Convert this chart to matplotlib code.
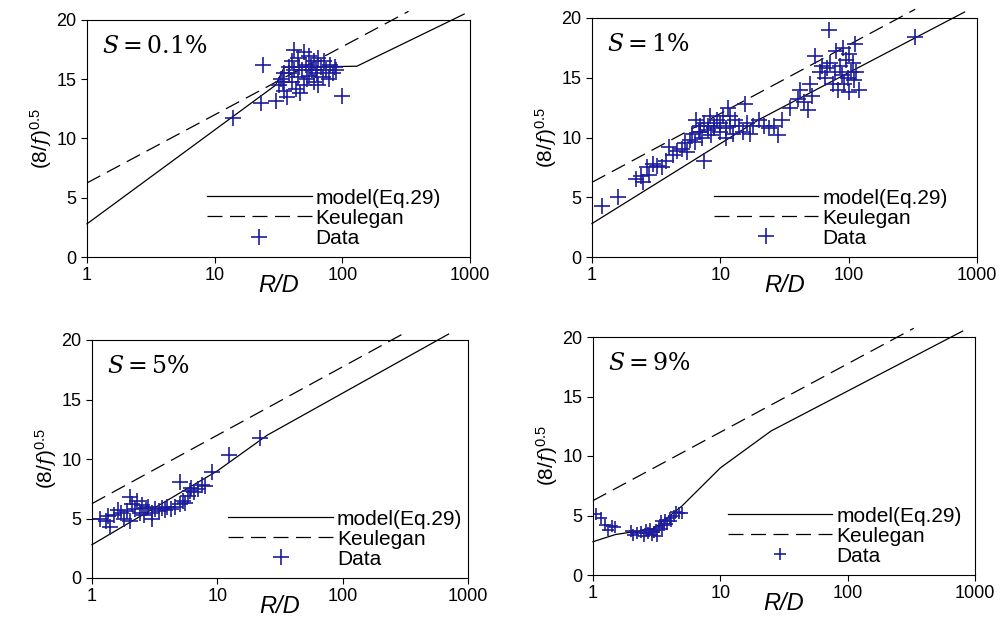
import numpy as np
import matplotlib.pyplot as plt

plt.rcParams['font.family'] = ['Liberation Sans', 'DejaVu Sans']
plt.rcParams['mathtext.fontset'] = 'dejavuserif'

slopes = ['0.1%', '1%', '5%', '9%']

# Keulegan: 6.25 + 5.75 log10(R/D), drawn up to just past the top of the axes
keu_x = [1, 330]

model_x = [
    [1, 30, 35, 130, 900],
    [1, 20, 800],
    [1, 10, 25, 700],
    [1, 1.5, 3, 5, 10, 25, 800],
]
model_y = [
    [2.8, 14.5, 16.0, 16.1, 20.5],
    [2.8, 11.5, 20.5],
    [2.8, 9.0, 12.0, 20.5],
    [2.8, 3.4, 3.9, 5.8, 9.0, 12.1, 20.5],
]

data_x = [
    [14, 23, 24, 30, 32, 33, 35, 35, 37, 38, 40, 40, 42, 43, 45, 45, 47, 48, 50, 50,
     52, 55, 55, 58, 60, 60, 63, 65, 65, 68, 70, 72, 75, 78, 80, 85, 88, 90, 100, 38,
     42, 46, 53, 57, 62, 34],
    [1.2, 1.6, 2.2, 2.4, 2.5, 2.7, 2.8, 3, 3.2, 3.5, 3.8, 4, 4.3, 4.6, 5, 5.3, 5.5, 5.8,
     6, 6.3, 6.5, 6.8, 7, 7.2, 7.5, 7.5, 8, 8.3, 8.5, 9, 9.5, 10, 10.5, 11, 11.5, 12,
     12.5, 13, 14, 15, 15.5, 16, 17, 18, 20, 22, 24, 26, 28, 30, 35, 40, 42, 45, 48,
     50, 52, 55, 60, 62, 65, 68, 70, 72, 75, 78, 80, 82, 85, 88, 90, 92, 95, 98, 100,
     100, 105, 108, 110, 112, 115, 120, 330, 9, 8, 10, 11, 7, 12],
    [1, 1.15, 1.3, 1.35, 1.4, 1.5, 1.6, 1.7, 1.8, 1.9, 2, 2, 2.1, 2.2, 2.3, 2.4, 2.5,
     2.6, 2.7, 2.8, 3, 3, 3.2, 3.4, 3.6, 3.8, 4, 4.3, 4.6, 5, 5, 5.3, 5.5, 5.8, 6, 6.2,
     6.5, 7, 7.5, 8, 9, 12.5, 22],
    [1.05, 1.15, 1.25, 1.3, 1.4, 1.5, 2, 2.05, 2.2, 2.4, 2.5, 2.6, 2.7, 2.8, 2.9, 3,
     3.1, 3.2, 3.3, 3.4, 3.5, 3.6, 3.7, 3.8, 4, 4.1, 4.3, 4.5, 4.7, 5],
]
data_y = [
    [11.7, 13, 16.2, 13.2, 14.5, 15, 15.5, 14, 13.5, 16, 14.8, 16.5, 17.5, 14.2, 15.2,
     16.8, 13.8, 15.8, 17.3, 14.5, 16.2, 15.3, 17, 15.8, 14.8, 16.5, 15.5, 16.8, 14.5,
     16, 15.2, 16.5, 15.8, 15, 16.2, 15.5, 16, 15.8, 13.6, 15.5, 15.8, 16, 15, 16, 15.8,
     14.8],
    [4.3, 5, 6.5, 6.8, 6.3, 7.5, 6.9, 7.8, 7.6, 7.5, 8, 9.2, 8.5, 8.9, 9, 9.5, 8.8, 9.8,
     10.3, 9.6, 11.5, 10.5, 11, 10, 8, 11.2, 10.6, 11.8, 10.2, 11, 11.5, 10.5, 11.8,
     10.8, 12.5, 11, 10.3, 11.5, 11, 10.5, 12.8, 11.2, 10.3, 11, 11.5, 11, 10.8, 11,
     10.2, 11.5, 12.5, 13.2, 14, 13, 12.3, 14.5, 13.5, 16.8, 15.5, 16, 15, 15.8, 19,
     16.2, 14.5, 15.5, 17.2, 14, 16, 15.2, 17.5, 14.5, 16.5, 15, 17, 13.8, 15.5, 16.2,
     14.8, 17.8, 15.5, 14, 18.4, 10.8, 11, 11.2, 10, 10.5, 11.8],
    [5, 5, 4.8, 5.2, 4.3, 5.3, 5.7, 5.5, 5, 5.6, 6.8, 4.8, 6.2, 5.8, 6.5, 5.5, 6.1, 5.3,
     5.9, 6, 5.5, 5, 5.8, 5.6, 5.9, 5.7, 6, 5.8, 6, 6.2, 8.1, 6.5, 6.3, 6.9, 7.3, 7.6,
     7.2, 7.5, 7.8, 7.7, 8.9, 10.3, 11.8],
    [5.1, 4.8, 4.2, 3.8, 4.1, 4, 3.7, 3.4, 3.5, 3.6, 3.3, 3.8, 3.5, 3.9, 3.4, 3.6, 3.8,
     3.3, 4, 4.5, 3.9, 4.2, 4.6, 4.3, 4.8, 4.5, 5, 5.3, 5.2, 5.2],
]

# axes boxes in pixels: left, top, right, bottom
boxes = [(87, 20, 470, 257), (592, 18, 977, 257), (92, 340, 468, 578), (593, 337, 975, 575)]
legend_pos = [(0.93, 0.03), (0.93, 0.03), (0.99, 0.03), (0.97, 0.03)]
msize = [12, 12, 12, 8]

fig = plt.figure(figsize=(10, 6.22), dpi=100)
W, H = 1000, 622
for i in range(4):
    l, t, r, b = boxes[i]
    ax = fig.add_axes([l / W, 1 - b / H, (r - l) / W, (b - t) / H])
    ax.set_xscale('log')
    ax.set_xlim(1, 1000)
    ax.set_ylim(0, 20)
    ax.set_yticks([0, 5, 10, 15, 20])
    ax.set_xticks([1, 10, 100, 1000])
    ax.set_xticklabels(['1', '10', '100', '1000'])
    ax.minorticks_off()
    ax.tick_params(labelsize=13, length=4, direction='out')
    kx = np.array(keu_x, dtype=float)
    ax.plot(model_x[i], model_y[i], color='black', lw=0.9, label='model(Eq.29)', clip_on=False)
    ax.plot(kx, 6.25 + 5.75 * np.log10(kx), color='black', lw=0.9, dashes=(12, 6),
            label='Keulegan', clip_on=False)
    ax.plot(data_x[i], data_y[i], ls='none', marker='+', ms=msize[i], mew=1.2,
            color='#1c1c9c', label='Data')
    ax.set_xlabel('R/D', fontsize=17, style='italic')
    ax.xaxis.set_label_coords(0.5, -0.07)
    ax.set_ylabel(r'$\mathregular{(8/}f\mathregular{)^{0.5}}$', fontsize=15, labelpad=2)
    ax.text(0.04, 0.86, r'$S = $' + slopes[i], transform=ax.transAxes, fontsize=17,
            family='DejaVu Serif')
    ax.legend(loc='lower right', bbox_to_anchor=legend_pos[i], frameon=False,
              handlelength=5.0, fontsize=15, labelspacing=0.05, handletextpad=0.2,
              borderpad=0.1, borderaxespad=0)

fig.savefig('out.png', dpi=100)
